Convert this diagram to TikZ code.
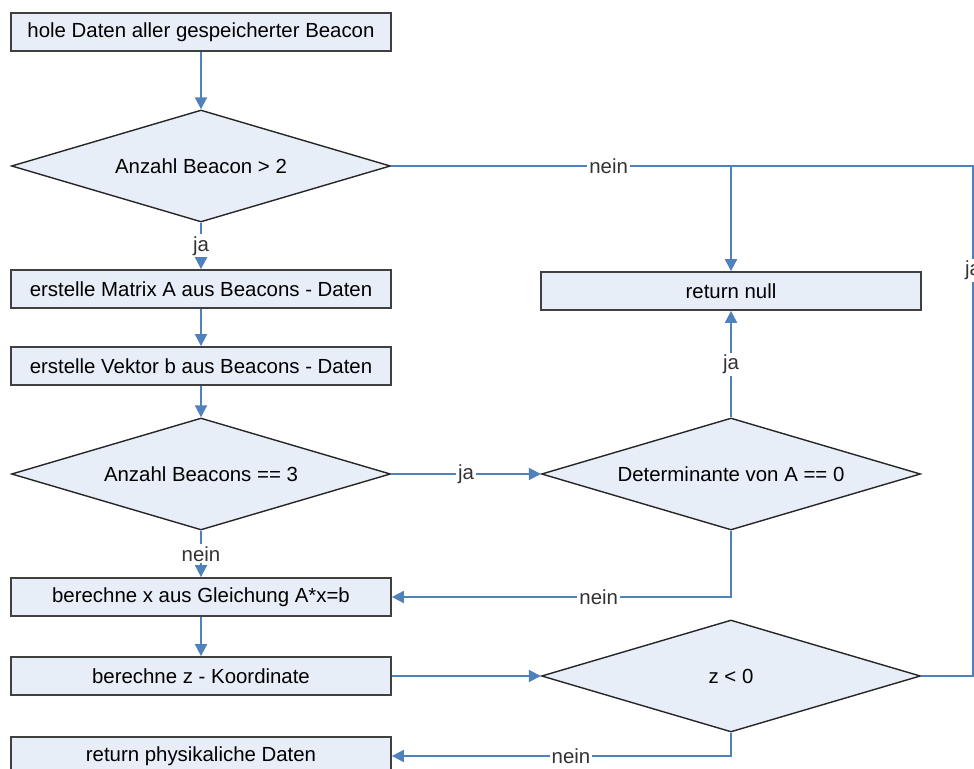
\documentclass[tikz,border=0pt]{standalone}
\usepackage{fontspec}
\setmainfont{Liberation Sans}
\usetikzlibrary{shapes.geometric,arrows.meta,shadows}
\definecolor{kastenblau}{RGB}{232,238,248}
\definecolor{pfeilblau}{RGB}{79,129,189}
\begin{document}
\begin{tikzpicture}[x=0.5pt, y=-0.5pt, font=\fontsize{10.2}{12}\selectfont,
    kasten/.style={draw=black!75, line width=0.9pt, fill=kastenblau, minimum width=190pt, minimum height=19pt, inner sep=0pt,
        drop shadow={shadow xshift=0.7pt, shadow yshift=-0.7pt, fill=black, opacity=0.25}},
    raute/.style={diamond, aspect=3.4, draw=black!85, line width=0.7pt, fill=kastenblau, minimum width=189.5pt, minimum height=56pt, inner sep=0pt},
    pfeil/.style={draw=pfeilblau, line width=1pt, -{Triangle[length=6pt, width=6pt]}},
    linie/.style={draw=pfeilblau, line width=1pt},
    marke/.style={fill=white, inner sep=1pt, text=black!80}]
    \useasboundingbox (0,0) rectangle (974,769);

    \node [kasten] (hole) at (201,32) {hole Daten aller gespeicherter Beacon};
    \node [raute] (anz1) at (201,166) {Anzahl Beacon > 2};
    \node [kasten] (matrix) at (201,289) {erstelle Matrix A aus Beacons - Daten};
    \node [kasten] (vektor) at (201,366) {erstelle Vektor b aus Beacons - Daten};
    \node [raute] (anz3) at (201,474) {Anzahl Beacons == 3};
    \node [kasten] (glg) at (201,597) {berechne x aus Gleichung A*x=b};
    \node [kasten] (zkoord) at (201,676) {berechne z - Koordinate};
    \node [kasten] (phys) at (201,756) {return physikaliche Daten};

    \node [kasten] (null) at (731,291) {return null};
    \node [raute] (det) at (731,474) {Determinante von A == 0};
    \node [raute] (zkl) at (731,676) {z < 0};
    \coordinate (rand) at (973,676);

    \draw [pfeil] (hole) -- (anz1);
    \draw [pfeil] (anz1) -- node [marke] {ja} (matrix);
    \draw [pfeil] (matrix) -- (vektor);
    \draw [pfeil] (vektor) -- (anz3);
    \draw [pfeil] (anz3) -- node [marke] {nein} (glg);
    \draw [pfeil] (glg) -- (zkoord);

    \draw [pfeil] (anz1.east) -| node [marke, pos=0.32] {nein} (null.north);
    \draw [pfeil] (anz3.east) -- node [marke] {ja} (det.west);
    \draw [pfeil] (det.north) -- node [marke] {ja} (null.south);
    \draw [pfeil] (det.south) |- node [marke, pos=0.695] {nein} (glg.east);
    \draw [pfeil] (zkoord.east) -- (zkl.west);
    \draw [pfeil] (zkl.south) |- node [marke, pos=0.736] {nein} (phys.east);
    \draw [linie] (zkl.east) -- (rand) -- node [marke, pos=0.796] {ja} (rand |- anz1.east) -- (anz1.east -| null.north);

\end{tikzpicture}
\end{document}
